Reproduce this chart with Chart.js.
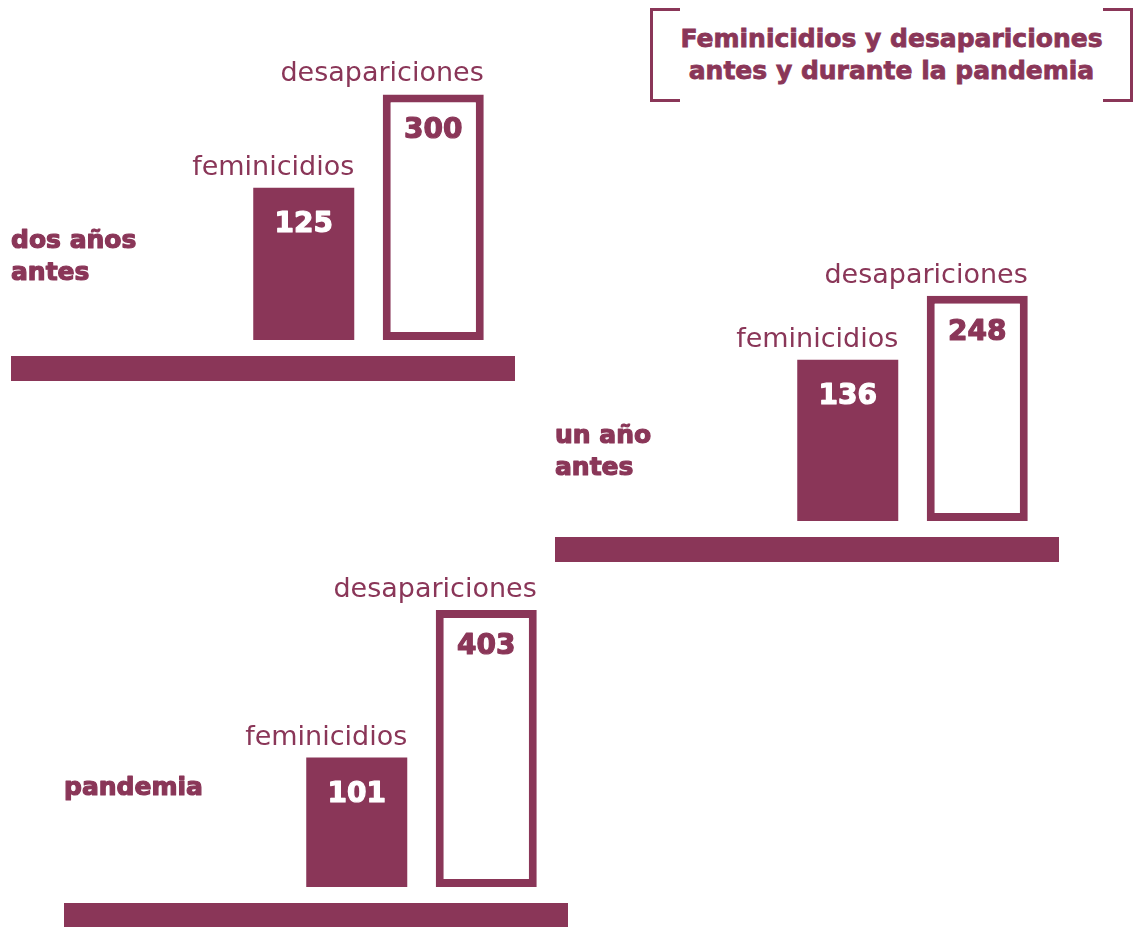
<!DOCTYPE html>
<html>
<head>
<meta charset="utf-8">
<script src="https://cdn.jsdelivr.net/npm/chart.js@4/dist/chart.umd.min.js"></script>
<style>
  html, body { margin: 0; padding: 0; background: #fff; overflow: hidden; }
  body { width: 1136px; height: 927px; position: relative; font-family: "DejaVu Sans", sans-serif; }
  #title {
    position: absolute; left: 650px; top: 8px; width: 483px; height: 94px;
    box-sizing: border-box; padding-top: 15px;
    color: #8A3658; font-weight: bold; font-size: 25px; line-height: 32px; text-align: center;
    -webkit-text-stroke: 0.8px #8A3658;
  }
  #title::before, #title::after {
    content: ""; position: absolute; top: 0; width: 30px; height: 94px; box-sizing: border-box;
    border-top: 3px solid #8A3658; border-bottom: 3px solid #8A3658;
  }
  #title::before { left: 0; border-left: 3px solid #8A3658; }
  #title::after { right: 0; border-right: 3px solid #8A3658; }
  .group { position: absolute; width: 504px; height: 371px; }
</style>
</head>
<body>
<div id="title">Feminicidios y desapariciones<br>antes y durante la pandemia</div>
<div class="group" id="g0"><canvas width="504" height="371"></canvas></div>
<div class="group" id="g1"><canvas width="504" height="371"></canvas></div>
<div class="group" id="g2"><canvas width="504" height="371"></canvas></div>
<script>
// data
var periods = [['dos años', 'antes'], ['un año', 'antes'], ['pandemia']];
var series = ['feminicidios', 'desapariciones'];
var feminicidios = [125, 136, 101];
var desapariciones = [300, 248, 403];

// layout of each group on the page
var groupLeft = [11, 555, 64];
var groupBarBottom = [340, 521, 887];
var groupLabelOffset = [-92, -78, -92];

var color = '#8A3658';

// bold text, thickened a little with a stroke
function heavyText(ctx, text, x, y, fill) {
  ctx.fillStyle = fill;
  ctx.strokeStyle = fill;
  ctx.lineWidth = 1.2;
  ctx.lineJoin = 'round';
  ctx.strokeText(text, x, y);
  ctx.fillText(text, x, y);
}

var labelsPlugin = {
  id: 'labels',
  afterDatasetsDraw: function (chart) {
    var ctx = chart.ctx;
    var g = chart.options.plugins.labels.group;
    var area = chart.chartArea;
    var meta = chart.getDatasetMeta(0);
    var values = chart.data.datasets[0].data;

    ctx.save();
    meta.data.forEach(function (bar, i) {
      var half = bar.width / 2;
      // series name above the bar
      ctx.fillStyle = color;
      ctx.font = '27px "DejaVu Sans"';
      ctx.textAlign = 'right';
      ctx.textBaseline = 'alphabetic';
      ctx.fillText(chart.data.labels[i], bar.x + half, bar.y - 13);
      // value inside the bar
      ctx.font = 'bold 28px "DejaVu Sans"';
      ctx.textAlign = 'center';
      heavyText(ctx, values[i], bar.x, bar.y + 44, i === 0 ? '#fff' : color);
    });

    // thick base line
    ctx.fillStyle = color;
    ctx.fillRect(0, area.bottom + 16, chart.width, 25);

    // period label
    ctx.font = 'bold 25px "DejaVu Sans"';
    ctx.textAlign = 'left';
    periods[g].forEach(function (line, j) {
      heavyText(ctx, line, 0, area.bottom + groupLabelOffset[g] + j * 32, color);
    });
    ctx.restore();
  }
};

periods.forEach(function (p, g) {
  var box = document.getElementById('g' + g);
  box.style.left = groupLeft[g] + 'px';
  box.style.top = (groupBarBottom[g] - 330) + 'px';

  new Chart(box.querySelector('canvas').getContext('2d'), {
    type: 'bar',
    data: {
      labels: series,
      datasets: [{
        data: [feminicidios[g], desapariciones[g]],
        backgroundColor: [color, '#fff'],
        borderColor: [color, color],
        borderWidth: [0, 8],
        borderSkipped: false,
        barPercentage: 0.78,
        categoryPercentage: 1
      }]
    },
    options: {
      responsive: false,
      animation: false,
      events: [],
      layout: { padding: { top: 30, bottom: 41, left: 228, right: 17 } },
      scales: {
        x: { display: false },
        y: { type: 'logarithmic', min: 30, max: 500, bounds: 'data', display: false }
      },
      plugins: {
        legend: { display: false },
        tooltip: { enabled: false },
        labels: { group: g }
      }
    },
    plugins: [labelsPlugin]
  });
});
</script>
</body>
</html>
